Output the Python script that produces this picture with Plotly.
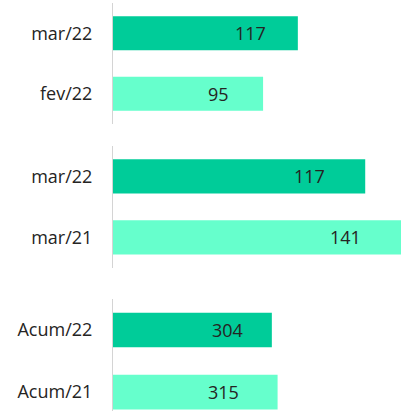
import plotly.graph_objects as go

# Data
group1_labels = ["mar/22", "fev/22"]
group1_values = [117, 95]
group2_labels = ["mar/22", "mar/21"]
group2_values = [117, 141]
group3_labels = ["Acum/22", "Acum/21"]
group3_values = [304, 315]

groups = [
    (group1_labels, group1_values),
    (group2_labels, group2_values),
    (group3_labels, group3_values),
]

# Styling
dark = "#00CC99"
light = "#66FFCC"
text_color = "#252423"
font_family = "Open Sans, Noto Sans, sans-serif"
label_shifts = [[-47, -45], [-56, -56], [-44, -54]]

H = 411.0
W = 401
# pixel extents (top, bottom) of each group's plot area
px_domains = [(3, 124), (145.7, 268), (299, 411)]
x_max = [182.3, 133.6, 551.2]
y_ranges = [[1.5, -0.5], [1.5, -0.5], [1.306, -0.5]]

fig = go.Figure()

for i, (labels, values) in enumerate(groups):
    n = "" if i == 0 else str(i + 1)
    fig.add_trace(go.Bar(
        y=labels, x=values, orientation="h",
        marker=dict(color=[dark, light], line=dict(width=0)),
        width=0.56,
        xaxis="x" + n, yaxis="y" + n,
        hoverinfo="skip",
        showlegend=False,
    ))
    for j, (lab, val) in enumerate(zip(labels, values)):
        fig.add_annotation(
            x=min(val, x_max[i]), y=lab, xref="x" + n, yref="y" + n,
            text=str(val), showarrow=False,
            xanchor="center", xshift=label_shifts[i][j],
            font=dict(size=18, color=text_color, family=font_family),
        )
    top, bot = px_domains[i]
    dom = [(H - bot) / H, (H - top) / H]
    fig.update_layout(**{
        "xaxis" + n: dict(
            domain=[0, 1], range=[0, x_max[i]], anchor="y" + n,
            showgrid=False, zeroline=False, showticklabels=False,
            showline=False, fixedrange=True,
        ),
        "yaxis" + n: dict(
            domain=dom, range=y_ranges[i], anchor="x" + n,
            type="category",
            showgrid=False, zeroline=False,
            showline=True, linecolor="#d4d4d4", linewidth=1,
            ticks="outside", ticklen=16, tickcolor="rgba(0,0,0,0)",
            tickfont=dict(size=18, color=text_color, family=font_family),
            fixedrange=True,
        ),
    })

fig.update_layout(
    width=W, height=int(H),
    margin=dict(l=113, r=0, t=0, b=0),
    paper_bgcolor="white", plot_bgcolor="white",
    barmode="group",
)

fig.write_html(
    "out.html",
    config={"displayModeBar": False, "staticPlot": True},
    post_script="document.body.style.margin='0';document.body.style.overflow='hidden';",
)
